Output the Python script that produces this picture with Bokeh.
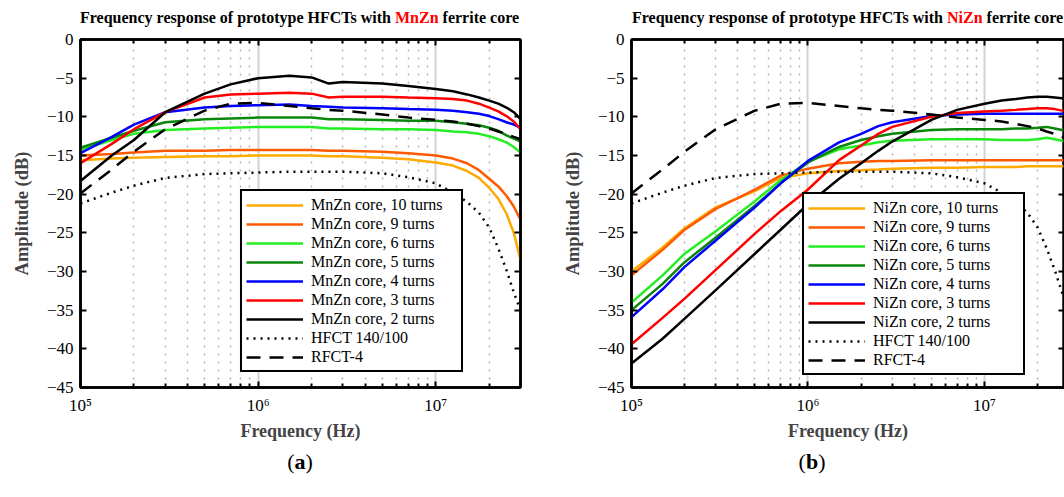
from bokeh.plotting import figure
from bokeh.layouts import row, column
from bokeh.models import Range1d, FixedTicker, LogAxis, LinearAxis, CustomJSTickFormatter, Div
from bokeh.embed import file_html
from bokeh.resources import INLINE

# ---------------- data ----------------
FREQ_HZ = [1e5, 1.5e5, 2e5, 3e5, 5e5, 7e5, 1e6, 1.5e6, 2e6, 2.5e6, 3e6, 5e6, 7e6,
           1e7, 1.25e7, 1.5e7, 1.75e7, 2e7, 2.25e7, 2.5e7, 2.75e7, 3e7]

MNZN_10 = [-15.6, -15.4, -15.3, -15.2, -15.1, -15.1, -15.0, -15.0, -15.0, -15.1, -15.1,
           -15.3, -15.5, -15.9, -16.3, -17.0, -17.9, -19.2, -20.6, -22.5, -25.0, -28.5]
MNZN_9 = [-15.0, -14.8, -14.6, -14.4, -14.4, -14.3, -14.3, -14.3, -14.3, -14.4, -14.4,
          -14.5, -14.7, -15.0, -15.4, -16.0, -16.9, -18.0, -19.0, -20.2, -21.6, -23.3]
MNZN_6 = [-14.3, -13.0, -12.2, -11.7, -11.5, -11.4, -11.3, -11.3, -11.3, -11.5, -11.5,
          -11.6, -11.6, -11.7, -11.9, -12.0, -12.2, -12.5, -12.9, -13.3, -13.9, -14.6]
MNZN_5 = [-14.0, -12.7, -11.8, -10.7, -10.3, -10.2, -10.1, -10.1, -10.1, -10.3, -10.3,
          -10.4, -10.5, -10.5, -10.7, -10.9, -11.1, -11.4, -11.8, -12.4, -12.8, -13.2]
MNZN_4 = [-14.7, -12.6, -11.0, -9.4, -8.8, -8.6, -8.5, -8.4, -8.6, -8.7, -8.8,
          -8.9, -9.0, -9.1, -9.2, -9.4, -9.6, -9.9, -10.3, -10.7, -11.0, -11.4]
MNZN_3 = [-16.0, -13.5, -11.6, -9.4, -7.5, -7.1, -7.0, -6.9, -7.0, -7.5, -7.4,
          -7.4, -7.5, -7.6, -7.7, -7.9, -8.3, -8.8, -9.3, -9.9, -10.6, -11.6]
MNZN_2 = [-18.3, -15.0, -13.0, -9.4, -7.0, -5.8, -5.0, -4.7, -4.9, -5.7, -5.5,
          -5.7, -6.0, -6.4, -6.7, -7.1, -7.5, -7.9, -8.3, -8.8, -9.4, -10.3]

NIZN_10 = [-30.0, -26.9, -24.4, -21.7, -19.6, -17.9, -17.3, -17.0, -16.9, -16.8, -16.7,
           -16.6, -16.6, -16.5, -16.5, -16.5, -16.4, -16.4, -16.4, -16.4, -16.4, -16.4]
NIZN_9 = [-30.5, -27.2, -24.6, -21.9, -19.4, -17.6, -16.7, -16.0, -15.8, -15.7, -15.7,
          -15.6, -15.6, -15.6, -15.6, -15.6, -15.6, -15.6, -15.6, -15.6, -15.6, -15.6]
NIZN_6 = [-34.0, -30.5, -27.7, -24.8, -20.9, -18.2, -15.8, -14.2, -13.7, -13.3, -13.1,
          -12.9, -12.9, -12.9, -13.0, -13.0, -13.0, -12.9, -12.7, -12.9, -13.1, -13.2]
NIZN_5 = [-35.0, -31.6, -28.8, -25.6, -21.5, -18.6, -15.9, -13.9, -13.0, -12.5, -12.2,
          -11.7, -11.6, -11.6, -11.6, -11.5, -11.5, -11.4, -11.3, -11.5, -11.7, -11.9]
NIZN_4 = [-35.9, -32.3, -29.4, -26.0, -21.7, -18.6, -15.7, -13.3, -12.2, -11.2, -10.7,
          -9.9, -9.7, -9.6, -9.6, -9.6, -9.6, -9.6, -9.6, -9.6, -9.6, -9.7]
NIZN_3 = [-39.4, -36.0, -33.5, -29.8, -25.1, -22.2, -19.4, -15.6, -13.7, -12.2, -11.3,
          -10.0, -9.5, -9.3, -9.2, -9.1, -9.0, -8.9, -8.9, -9.0, -9.2, -9.3]
NIZN_2 = [-41.9, -38.7, -36.1, -32.4, -27.7, -24.6, -21.3, -18.0, -16.0, -14.4, -13.2,
          -10.4, -9.1, -8.3, -7.9, -7.7, -7.5, -7.4, -7.4, -7.5, -7.6, -7.7]

HFCT_140_100 = [-21.2, -19.8, -18.9, -17.9, -17.4, -17.3, -17.2, -17.1, -17.1, -17.1, -17.1,
                -17.3, -17.8, -18.6, -19.8, -21.0, -22.4, -24.3, -27.0, -29.8, -32.7, -35.0]
RFCT_4 = [-19.9, -16.8, -14.5, -11.6, -9.2, -8.3, -8.2, -8.6, -8.9, -9.1, -9.2,
          -9.7, -10.1, -10.4, -10.6, -10.9, -11.2, -11.5, -11.9, -12.2, -12.6, -12.9]

TURNS = [10, 9, 6, 5, 4, 3, 2]
TURN_COLORS = ["#ffaa00", "#ff5a00", "#22ee22", "#0a860a", "#0000ff", "#ff0000", "#000000"]

X_MAJOR = [1e5, 1e6, 1e7]
X_MINOR = [2e5, 3e5, 4e5, 5e5, 6e5, 7e5, 8e5, 9e5,
           2e6, 3e6, 4e6, 5e6, 6e6, 7e6, 8e6, 9e6, 2e7, 3e7]
X_LABELS = {100000: "10\u2075", 1000000: "10\u2076", 10000000: "10\u2077"}
Y_TICKS = [-45, -40, -35, -30, -25, -20, -15, -10, -5, 0]

SERIF = "Liberation Serif"


def style_axis(ax, show_labels):
    ax.axis_line_width = 2.5
    ax.axis_line_color = "black"
    ax.major_tick_in = 6
    ax.major_tick_out = 0
    ax.major_tick_line_width = 2
    ax.minor_tick_in = 4
    ax.minor_tick_out = 0
    ax.minor_tick_line_width = 2
    ax.major_label_text_font = SERIF
    ax.major_label_text_color = "black"
    ax.major_label_text_font_size = "17px"
    if not show_labels:
        ax.formatter = CustomJSTickFormatter(code="return ''")
        ax.major_label_standoff = 0


def build_panel(core, series, min_left, min_right, x_end, legend_xy, title_left,
                cap_left, cap_width, letter):
    p = figure(width=532, height=422, x_axis_type="log",
               x_range=Range1d(1e5, x_end), y_range=Range1d(-45, 0),
               output_backend="svg", toolbar_location=None,
               min_border_left=min_left, min_border_right=min_right,
               min_border_top=11, min_border_bottom=63)
    p.outline_line_color = "black"
    p.outline_line_width = 2.5

    xt = FixedTicker(ticks=X_MAJOR, minor_ticks=X_MINOR)
    yt = FixedTicker(ticks=Y_TICKS)

    bx = p.xaxis[0]
    ly = p.yaxis[0]
    bx.ticker = xt
    ly.ticker = yt
    p.xgrid.ticker = xt
    p.ygrid.visible = False
    p.xgrid.grid_line_color = "#d2d2d2"
    p.xgrid.grid_line_width = 2
    p.xgrid.minor_grid_line_color = "#b4b4b4"
    p.xgrid.minor_grid_line_width = 1.5
    p.xgrid.minor_grid_line_dash = "2 6"

    top = LogAxis(ticker=xt)
    right = LinearAxis(ticker=yt)
    p.add_layout(top, "above")
    p.add_layout(right, "right")

    style_axis(bx, True)
    style_axis(ly, True)
    style_axis(top, False)
    style_axis(right, False)

    bx.major_label_overrides = X_LABELS
    bx.major_label_standoff = 8
    bx.axis_label = "Frequency (Hz)"
    bx.axis_label_text_font = SERIF
    bx.axis_label_text_font_style = "bold"
    bx.axis_label_text_font_size = "18px"
    bx.axis_label_standoff = 3

    ly.major_label_standoff = 7
    ly.axis_label = "Amplitude (dB)"
    ly.axis_label_text_font = SERIF
    ly.axis_label_text_font_style = "bold"
    ly.axis_label_text_font_size = "18.5px"
    ly.axis_label_standoff = 12

    for n, color, ys in zip(TURNS, TURN_COLORS, series):
        p.line(FREQ_HZ, ys, line_color=color, line_width=2.5,
               legend_label=f"{core} core, {n} turns")
    p.line(FREQ_HZ, HFCT_140_100, line_color="black", line_width=2.5,
           line_dash="2 5", legend_label="HFCT 140/100")
    p.line(FREQ_HZ, RFCT_4, line_color="black", line_width=2.5,
           line_dash="14 9", legend_label="RFCT-4")

    lg = p.legend[0]
    lg.location = legend_xy
    lg.border_line_color = "black"
    lg.border_line_alpha = 1.0
    lg.border_line_width = 2.5
    lg.background_fill_color = "white"
    lg.background_fill_alpha = 1
    lg.label_text_font = SERIF
    lg.label_text_font_size = "16px"
    lg.label_text_color = "black"
    lg.glyph_width = 57
    lg.glyph_height = 18
    lg.label_height = 19
    lg.label_width = 146
    lg.spacing = 0
    lg.padding = 4
    lg.margin = 0
    lg.label_standoff = 8

    title_html = (
        f'<div style="font-family:\'{SERIF}\';font-weight:bold;font-size:16px;'
        f'line-height:20px;padding-top:8px;margin-left:{title_left}px;white-space:nowrap;color:#000">'
        f'Frequency response of prototype HFCTs with '
        f'<span style="color:#ff0000">{core}</span> ferrite core</div>'
    )
    title_div = Div(text=title_html, width=532, height=28, margin=0)

    cap_html = (
        f'<div style="font-family:\'{SERIF}\';font-size:22px;line-height:24px;'
        f'margin-left:{cap_left}px;width:{cap_width}px;text-align:center;color:#000">'
        f'(<b>{letter}</b>)</div>'
    )
    cap_div = Div(text=cap_html, width=532, height=47, margin=0)
    return column(title_div, p, cap_div, spacing=0)


pa = build_panel("MnZn", [MNZN_10, MNZN_9, MNZN_6, MNZN_5, MNZN_4, MNZN_3, MNZN_2],
                 80, 12, 3e7, (160, 15), 80, 80, 440, "a")
pb = build_panel("NiZn", [NIZN_10, NIZN_9, NIZN_6, NIZN_5, NIZN_4, NIZN_3, NIZN_2],
                 99, 0, 2.84e7, (171, 12), 100, 99, 362, "b")

layout = row(pa, pb, spacing=0)
open("out.html", "w").write(file_html(layout, INLINE))
